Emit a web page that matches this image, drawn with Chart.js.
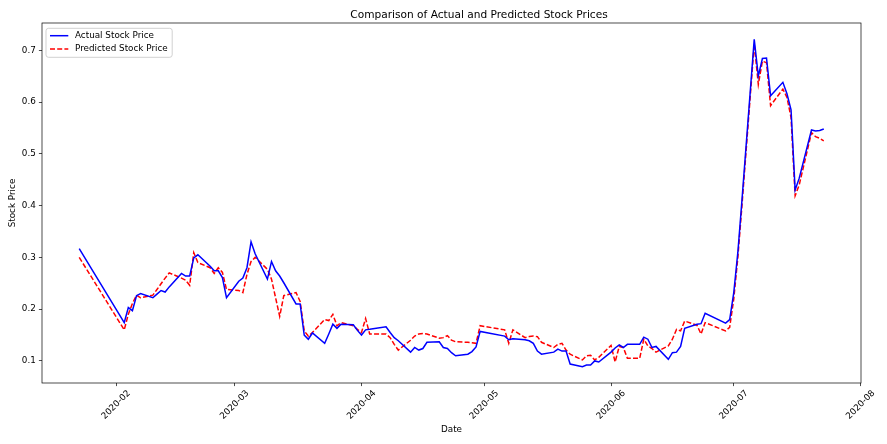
<!DOCTYPE html>
<html><head><meta charset="utf-8">
<script src="https://cdn.jsdelivr.net/npm/chart.js@4.4.1/dist/chart.umd.min.js"></script>
<style>html,body{margin:0;padding:0;background:#fff;overflow:hidden}#wrap{width:887px;height:444px;position:relative}</style>
</head><body><div id="wrap"><canvas id="c" width="887" height="444"></canvas></div>
<script>
const dates = [
'2020-01-23',
'2020-02-03','2020-02-04','2020-02-05','2020-02-06','2020-02-07','2020-02-10','2020-02-11','2020-02-12','2020-02-13','2020-02-14','2020-02-17','2020-02-18','2020-02-19','2020-02-20','2020-02-21','2020-02-24','2020-02-25','2020-02-26','2020-02-27','2020-02-28',
'2020-03-02','2020-03-03','2020-03-04','2020-03-05','2020-03-06','2020-03-09','2020-03-10','2020-03-11','2020-03-12','2020-03-13','2020-03-16','2020-03-17','2020-03-18','2020-03-19','2020-03-20','2020-03-23','2020-03-24','2020-03-25','2020-03-26','2020-03-27','2020-03-30','2020-03-31',
'2020-04-01','2020-04-02','2020-04-03','2020-04-07','2020-04-08','2020-04-09','2020-04-10','2020-04-13','2020-04-14','2020-04-15','2020-04-16','2020-04-17','2020-04-20','2020-04-21','2020-04-22','2020-04-23','2020-04-24','2020-04-27','2020-04-28','2020-04-29','2020-04-30',
'2020-05-06','2020-05-07','2020-05-08','2020-05-11','2020-05-12','2020-05-13','2020-05-14','2020-05-15','2020-05-18','2020-05-19','2020-05-20','2020-05-21','2020-05-22','2020-05-25','2020-05-26','2020-05-27','2020-05-28','2020-05-29',
'2020-06-01','2020-06-02','2020-06-03','2020-06-04','2020-06-05','2020-06-08','2020-06-09','2020-06-10','2020-06-11','2020-06-12','2020-06-15','2020-06-16','2020-06-17','2020-06-18','2020-06-19','2020-06-22','2020-06-23','2020-06-24','2020-06-29','2020-06-30',
'2020-07-01','2020-07-02','2020-07-03','2020-07-06','2020-07-07','2020-07-08','2020-07-09','2020-07-10','2020-07-13','2020-07-14','2020-07-15','2020-07-16','2020-07-17','2020-07-20','2020-07-21','2020-07-22','2020-07-23'
];
const actual = [
0.317,
0.174,0.203,0.197,0.226,0.230,0.222,0.229,0.236,0.233,0.243,0.269,0.264,0.264,0.299,0.305,0.283,0.274,0.274,0.261,0.222,
0.254,0.260,0.280,0.330,0.307,0.258,0.292,0.274,0.264,0.251,0.210,0.210,0.150,0.142,0.154,0.134,0.152,0.171,0.163,0.171,0.170,0.159,
0.150,0.160,0.161,0.166,0.155,0.145,0.139,0.117,0.126,0.121,0.124,0.136,0.137,0.126,0.124,0.116,0.110,0.113,0.118,0.127,0.157,
0.148,0.141,0.143,0.141,0.139,0.134,0.119,0.113,0.117,0.123,0.119,0.119,0.094,0.089,0.092,0.092,0.100,0.098,
0.117,0.125,0.131,0.126,0.132,0.132,0.146,0.142,0.126,0.128,0.103,0.116,0.117,0.128,0.163,0.171,0.172,0.192,0.173,0.180,
0.232,0.310,0.410,0.721,0.650,0.684,0.685,0.612,0.638,0.616,0.585,0.430,0.453,0.546,0.544,0.545,0.548
];
const predicted = [
0.300,
0.160,0.190,0.211,0.227,0.222,0.227,0.238,0.249,0.260,0.270,0.260,0.256,0.246,0.309,0.290,0.280,0.269,0.280,0.271,0.238,
0.236,0.232,0.267,0.292,0.300,0.277,0.258,0.222,0.186,0.226,0.232,0.215,0.158,0.148,0.155,0.180,0.178,0.190,0.168,0.174,0.168,0.161,
0.155,0.182,0.152,0.152,0.145,0.132,0.121,0.140,0.148,0.152,0.153,0.152,0.144,0.145,0.149,0.140,0.137,0.136,0.135,0.134,0.168,
0.160,0.134,0.160,0.145,0.147,0.148,0.147,0.136,0.126,0.132,0.134,0.121,0.113,0.102,0.110,0.111,0.102,0.107,
0.130,0.098,0.128,0.126,0.105,0.105,0.142,0.129,0.124,0.117,0.129,0.142,0.161,0.158,0.177,0.169,0.152,0.174,0.158,0.165,
0.220,0.300,0.400,0.712,0.634,0.679,0.676,0.593,0.625,0.609,0.570,0.419,0.440,0.541,0.533,0.530,0.525
];
const xTickLabels = ['2020-02','2020-03','2020-04','2020-05','2020-06','2020-07','2020-08'];
const yTickValues = [0.1,0.2,0.3,0.4,0.5,0.6,0.7];
const titleText = 'Comparison of Actual and Predicted Stock Prices';

const dayNum = s => { const p = s.split('-').map(Number); return Date.UTC(p[0], p[1]-1, p[2]||1) / 86400000; };
const xs = dates.map(dayNum);
const xSpan = xs[xs.length-1] - xs[0];
const allY = actual.concat(predicted);
const yLo = Math.min(...allY), yHi = Math.max(...allY), ySpan = yHi - yLo;

const FS = 8.8;
const FONT = 'DejaVu Sans';

const framePlugin = {
  id: 'frame',
  afterDatasetsDraw(chart) {
    const {ctx, chartArea: a} = chart;
    ctx.save();
    ctx.strokeStyle = '#000';
    ctx.lineWidth = 0.7;
    ctx.strokeRect(a.left, a.top, a.right - a.left, a.bottom - a.top);
    ctx.restore();
  }
};

const titlePlugin = {
  id: 'mplTitle',
  afterDraw(chart) {
    const {ctx} = chart;
    ctx.save();
    ctx.font = '10.6px "' + FONT + '"';
    ctx.fillStyle = '#000';
    ctx.textAlign = 'center';
    ctx.textBaseline = 'alphabetic';
    ctx.fillText(titleText, 479, 18);
    ctx.restore();
  }
};

const legendPlugin = {
  id: 'mplLegend',
  afterDraw(chart) {
    const {ctx, chartArea: a} = chart;
    const ds = chart.data.datasets;
    ctx.save();
    ctx.font = FS + 'px "' + FONT + '"';
    const textX = a.left + 33;
    let maxW = 0;
    ds.forEach(d => { maxW = Math.max(maxW, ctx.measureText(d.label).width); });
    const fx = a.left + 4, fy = a.top + 5.3, fw = textX + maxW + 4.5 - fx, fh = 29, r = 2.5;
    ctx.beginPath();
    ctx.moveTo(fx + r, fy);
    ctx.lineTo(fx + fw - r, fy); ctx.quadraticCurveTo(fx + fw, fy, fx + fw, fy + r);
    ctx.lineTo(fx + fw, fy + fh - r); ctx.quadraticCurveTo(fx + fw, fy + fh, fx + fw - r, fy + fh);
    ctx.lineTo(fx + r, fy + fh); ctx.quadraticCurveTo(fx, fy + fh, fx, fy + fh - r);
    ctx.lineTo(fx, fy + r); ctx.quadraticCurveTo(fx, fy, fx + r, fy);
    ctx.closePath();
    ctx.fillStyle = 'rgba(255,255,255,0.8)';
    ctx.fill();
    ctx.strokeStyle = '#cccccc';
    ctx.lineWidth = 0.9;
    ctx.stroke();
    ds.forEach((d, i) => {
      const y = a.top + 12.7 + i * 13.3;
      ctx.beginPath();
      ctx.setLineDash(d.borderDash || []);
      ctx.strokeStyle = d.borderColor;
      ctx.lineWidth = d.borderWidth;
      ctx.moveTo(a.left + 8, y);
      ctx.lineTo(a.left + 26.3, y);
      ctx.stroke();
      ctx.setLineDash([]);
      ctx.fillStyle = '#000';
      ctx.textBaseline = 'middle';
      ctx.textAlign = 'left';
      ctx.fillText(d.label, textX, y);
    });
    ctx.restore();
  }
};

new Chart(document.getElementById('c'), {
  type: 'line',
  data: {
    datasets: [
      { label: 'Actual Stock Price', data: xs.map((x, i) => ({x, y: actual[i]})),
        borderColor: '#0000ff', backgroundColor: '#0000ff', borderWidth: 1.5, pointRadius: 0, tension: 0, fill: false },
      { label: 'Predicted Stock Price', data: xs.map((x, i) => ({x, y: predicted[i]})),
        borderColor: '#ff0000', backgroundColor: '#ff0000', borderWidth: 1.5, borderDash: [5, 2.2], pointRadius: 0, tension: 0, fill: false }
    ]
  },
  options: {
    responsive: false,
    animation: false,
    devicePixelRatio: 1,
    layout: { padding: { left: 0, right: 26, top: 23, bottom: 0 } },
    plugins: {
      legend: { display: false },
      tooltip: { enabled: false },
      title: { display: false }
    },
    scales: {
      x: {
        type: 'linear',
        min: xs[0] - 0.05 * xSpan,
        max: xs[xs.length-1] + 0.05 * xSpan,
        afterBuildTicks: s => { s.ticks = xTickLabels.map(l => ({ value: dayNum(l + '-01') })); },
        afterFit: s => { s.height = 61; },
        ticks: {
          autoSkip: false, minRotation: 45, maxRotation: 45, padding: 2, labelOffset: 13,
          color: '#000', font: { family: FONT, size: FS },
          callback: v => new Date(v * 86400000).toISOString().slice(0, 7)
        },
        grid: { display: true, drawOnChartArea: false, drawTicks: true, tickLength: 3.1, tickWidth: 0.7, tickColor: '#000', color: '#000', lineWidth: 0.7 },
        border: { display: false },
        title: { display: true, text: 'Date', color: '#000', font: { family: FONT, size: FS }, padding: { top: 0, bottom: 9 } }
      },
      y: {
        type: 'linear',
        min: yLo - 0.05 * ySpan,
        max: yHi + 0.05 * ySpan,
        afterBuildTicks: s => { s.ticks = yTickValues.map(v => ({ value: v })); },
        afterFit: s => { s.width = 42; },
        ticks: { padding: 3.1, color: '#000', font: { family: FONT, size: FS }, callback: v => v.toFixed(1) },
        grid: { display: true, drawOnChartArea: false, drawTicks: true, tickLength: 3.1, tickWidth: 0.7, tickColor: '#000', color: '#000', lineWidth: 0.7 },
        border: { display: false },
        title: { display: true, text: 'Stock Price', color: '#000', font: { family: FONT, size: FS }, padding: { top: 7, bottom: 0 } }
      }
    }
  },
  plugins: [framePlugin, titlePlugin, legendPlugin]
});
</script>
</body></html>
